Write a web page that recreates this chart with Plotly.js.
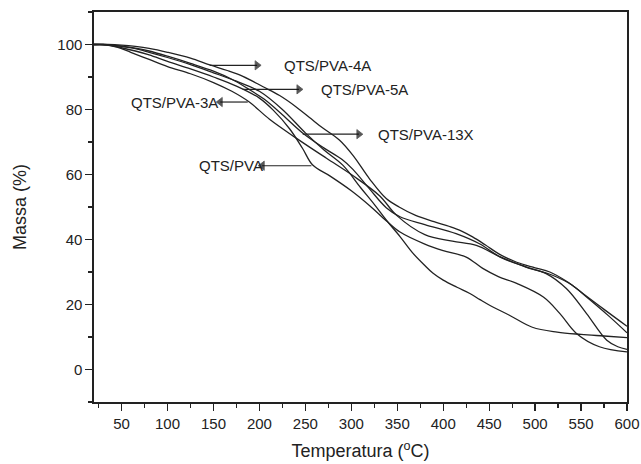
<!DOCTYPE html>
<html>
<head>
<meta charset="utf-8">
<script src="https://cdn.plot.ly/plotly-3.0.1.min.js"></script>
<style>html,body{margin:0;padding:0;background:#fff;}#chart{width:641px;height:464px;}</style>
</head>
<body>
<div id="chart"></div>
<script>
// Curve data (Temperatura °C, Massa %)
var x4A = [20,35,50,65,80,100,125,146,165,182,204,222,240,256,269,287,302,320,338,352,370,390,407,420,432,446,461,480,500,516,535,552,575,600];
var y4A = [100,100,99.8,99.4,98.8,97.6,95.8,93.7,92.0,90.2,87.0,84.3,80.8,77.2,74.3,70.6,65.8,58.6,52.6,50.0,47.4,45.5,44.0,42.6,40.8,38.3,35.5,33.0,31.3,30.0,27.0,23.4,18.5,13.3];

var x5A = [20,35,50,65,80,100,125,150,170,187,205,225,247,270,290,302,320,338,353,380,414,440,462,490,519,540,556,580,600];
var y5A = [100,99.9,99.5,98.9,98.0,96.4,94.2,91.8,89.3,86.5,83.2,78.4,72.8,68.2,64.6,61.5,55.5,49.8,47.0,44.6,41.8,38.6,34.6,31.6,29.0,26.0,22.3,16.5,11.3];

var x13X = [20,35,50,65,80,100,125,150,175,200,225,250,270,291,310,325,338,353,367,380,389,400,415,429,440,451,472,497,524,550,575,600];
var y13X = [100,99.9,99.4,98.7,97.6,96.0,93.8,91.3,88.7,85.6,80.0,72.8,67.6,62.8,56.0,50.8,46.0,40.9,35.8,32.0,29.6,27.5,25.3,23.4,21.5,19.7,16.7,13.0,11.5,10.8,10.3,9.8];

var x3A = [20,30,45,60,80,100,125,150,170,189,211,240,273,302,331,349,380,410,436,461,490,512,534,556,578,590,600];
var y3A = [100,100,99.2,97.6,95.4,93.2,91.0,88.3,85.6,82.3,77.0,71.2,65.0,59.6,53.4,47.5,41.5,39.5,38.2,34.8,31.5,29.5,24.9,17.2,9.0,7.0,6.2];

var xPVA = [20,32,50,65,80,100,125,150,175,200,215,233,247,258,277,300,320,338,353,380,400,425,443,460,480,509,527,545,570,600];
var yPVA = [100,100,99.0,98.0,96.8,94.8,92.5,90.0,87.2,83.5,79.8,74.0,68.0,62.9,59.5,55.0,50.4,45.8,42.3,38.6,36.6,34.6,31.1,28.6,26.5,22.3,17.2,11.1,7.0,5.4];

// Labels and their arrows
var labelTexts = ["QTS/PVA-4A","QTS/PVA-5A","QTS/PVA-3A","QTS/PVA-13X","QTS/PVA"];
var labelX = [225.3, 265.6, 58.9, 327.6, 132.8];
var labelY = [93.6, 86.2, 82.3, 72.4, 62.7];
var arrowTailX = [145.9, 181.8, 187.3, 247.1, 256.6];
var arrowHeadX = [197.5, 243.0, 157.4, 308.2, 203.1];

var xTicks = [50,100,150,200,250,300,350,400,450,500,550,600];
var yTicks = [0,20,40,60,80,100];

var ink = '#222';
var font = 'Liberation Sans, Arial, sans-serif';

var series = [[x4A,y4A],[x5A,y5A],[x13X,y13X],[x3A,y3A],[xPVA,yPVA]];
var names = ["QTS/PVA-4A","QTS/PVA-5A","QTS/PVA-13X","QTS/PVA-3A","QTS/PVA"];
var traces = series.map(function(s,i){
  return {x:s[0], y:s[1], type:'scatter', mode:'lines', name:names[i],
    line:{color:ink, width:1.3, shape:'spline', smoothing:1}, hoverinfo:'skip'};
});

// arrows as line + triangle marker traces
for (var i=0;i<labelTexts.length;i++){
  traces.push({x:[arrowTailX[i], arrowHeadX[i]], y:[labelY[i], labelY[i]],
    type:'scatter', mode:'lines+markers', hoverinfo:'skip', showlegend:false,
    line:{color:ink, width:1.2},
    marker:{symbol:'triangle-up', angleref:'previous', size:[0,8], color:'#111', line:{width:0.8, color:'#111'}}});
}

var annotations = [];
for (var i=0;i<labelTexts.length;i++){
  annotations.push({x:labelX[i], y:labelY[i], xref:'x', yref:'y', text:labelTexts[i],
    showarrow:false, xanchor:'left', yanchor:'middle', borderpad:0,
    font:{family:font, size:15, color:ink}});
}

var layout = {
  width:641, height:464,
  margin:{l:94, r:14, t:12, b:62},
  paper_bgcolor:'#fff', plot_bgcolor:'#fff',
  showlegend:false,
  font:{family:font, size:15, color:ink},
  xaxis:{range:[20,600], tickvals:xTicks, ticktext:xTicks.map(String),
    ticks:'outside', ticklen:7, tickwidth:1.2, tickcolor:ink,
    minor:{dtick:25, tick0:0, ticks:'outside', ticklen:4, tickwidth:1.2, tickcolor:ink, showgrid:false},
    showline:true, linecolor:ink, linewidth:1.6, mirror:true,
    showgrid:false, zeroline:false,
    tickfont:{family:font, size:15, color:ink},
    title:{text:'Temperatura (<sup>o</sup>C)', font:{family:font, size:18, color:ink}, standoff:14}},
  yaxis:{range:[-10,110], tickvals:yTicks, ticktext:yTicks.map(String),
    ticks:'outside', ticklen:7, tickwidth:1.2, tickcolor:ink,
    minor:{dtick:10, tick0:0, ticks:'outside', ticklen:4, tickwidth:1.2, tickcolor:ink, showgrid:false},
    showline:true, linecolor:ink, linewidth:1.6, mirror:true,
    showgrid:false, zeroline:false,
    tickfont:{family:font, size:15, color:ink},
    title:{text:'Massa (%)', font:{family:font, size:18, color:ink}, standoff:26}},
  annotations:annotations
};

Plotly.newPlot('chart', traces, layout, {displayModeBar:false, staticPlot:true});
</script>
</body>
</html>
